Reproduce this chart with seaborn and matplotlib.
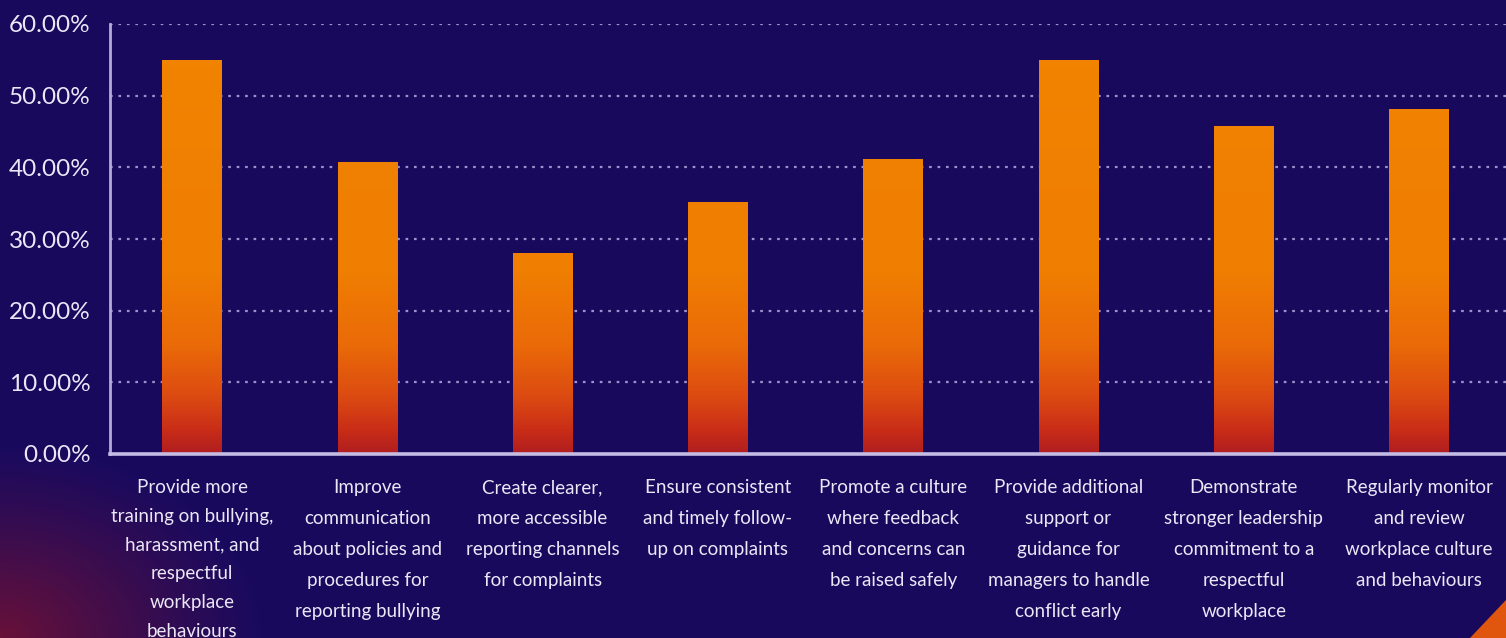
import numpy as np
import pandas as pd
import matplotlib
matplotlib.use("Agg")
import matplotlib.pyplot as plt
from matplotlib.colors import LinearSegmentedColormap, to_rgb
from matplotlib.patches import Polygon
from matplotlib.ticker import FuncFormatter
import seaborn as sns

# Survey answers: share of respondents choosing each improvement (%)
categories = [
    "Provide more\ntraining on bullying,\nharassment, and\nrespectful\nworkplace\nbehaviours",
    "Improve\ncommunication\nabout policies and\nprocedures for\nreporting bullying",
    "Create clearer,\nmore accessible\nreporting channels\nfor complaints",
    "Ensure consistent\nand timely follow-\nup on complaints",
    "Promote a culture\nwhere feedback\nand concerns can\nbe raised safely",
    "Provide additional\nsupport or\nguidance for\nmanagers to handle\nconflict early",
    "Demonstrate\nstronger leadership\ncommitment to a\nrespectful\nworkplace",
    "Regularly monitor\nand review\nworkplace culture\nand behaviours",
]
values = [55.0, 40.8, 28.1, 35.2, 41.2, 55.0, 45.7, 48.2]
y_ticks = [0, 10, 20, 30, 40, 50, 60]

df = pd.DataFrame({"option": categories, "share": values})

sns.set_theme(style="white")
plt.rcParams["font.family"] = ["Lato", "DejaVu Sans"]

W, H = 1506, 638
fig = plt.figure(figsize=(W / 100, H / 100), dpi=100)
bg_color = np.array(to_rgb("#1a0a5e"))
fig.patch.set_facecolor(bg_color)

# Background: deep indigo with a warm glow in the lower-left corner
bg_ax = fig.add_axes([0, 0, 1, 1], zorder=0)
yy, xx = np.mgrid[0:H, 0:W]
d = np.sqrt((xx / 260.0) ** 2 + ((H - yy) / 190.0) ** 2)
glow = np.clip(1 - d, 0, 1) ** 1.1 * 0.7
warm = np.array(to_rgb("#8a1428"))
img = bg_color[None, None, :] * (1 - glow[..., None]) + warm[None, None, :] * glow[..., None]
bg_ax.imshow(img, extent=(0, 1, 0, 1), aspect="auto", origin="upper")
bg_ax.set_xlim(0, 1)
bg_ax.set_ylim(0, 1)
bg_ax.axis("off")

# Orange corner accent
fig.patches.append(Polygon([(1470 / W, 0), (1.0, 38 / H), (1.0, 0)], closed=True,
                           transform=fig.transFigure, facecolor="#e0560f",
                           edgecolor="none", zorder=1))

left, right = 110 / W, 1.0
bottom, top = 184 / H, (H - 24) / H
ax = fig.add_axes([left, bottom, right - left, top - bottom], zorder=2)
ax.set_facecolor("none")

sns.barplot(data=df, x="option", y="share", ax=ax, width=0.34,
            color="#f28400", saturation=1, edgecolor="none", zorder=3)

# Vertical orange-to-red gradient fill for every bar
grad = LinearSegmentedColormap.from_list("bar_grad", [
    (0.0, "#b01e20"),
    (0.05, "#c82c18"),
    (0.13, "#dc4a12"),
    (0.25, "#ea6a08"),
    (0.42, "#f07e02"),
    (1.0, "#f28400"),
])
ymax = y_ticks[-1]
for patch in list(ax.patches):
    x0, w, h = patch.get_x(), patch.get_width(), patch.get_height()
    ys = np.linspace(h, 0, 300) / ymax
    arr = grad(ys)[:, None, :]
    im = ax.imshow(arr, extent=(x0, x0 + w, 0, h), aspect="auto",
                   origin="upper", zorder=3, interpolation="bilinear")
    im.set_clip_path(patch)
    patch.set_facecolor("none")

ax.set_xlim(-0.468, 7.496)
ax.set_ylim(0, ymax)
ax.set_yticks(y_ticks)
ax.yaxis.set_major_formatter(FuncFormatter(lambda v, _: f"{v:.2f}%"))

ax.grid(axis="y", color="#9c92cc", linestyle=(0, (1.2, 2.6)), linewidth=1.6, zorder=1)
ax.grid(axis="x", visible=False)
ax.set_axisbelow(True)

for s in ("top", "right"):
    ax.spines[s].set_visible(False)
ax.spines["left"].set_color("#b4acd8")
ax.spines["left"].set_linewidth(2)
ax.spines["bottom"].set_color("#c4bce4")
ax.spines["bottom"].set_linewidth(2.6)
ax.spines["bottom"].set_zorder(4)

label_color = "#ebe7f6"
ax.tick_params(axis="y", length=0, pad=14, labelsize=17.5, labelcolor=label_color)
ax.tick_params(axis="x", length=0, pad=18, labelcolor=label_color)
ax.set_xticks(range(len(categories)))
xlabels = ax.set_xticklabels(categories, fontsize=13.5, linespacing=2.0,
                             ha="center", va="top")
# the six-line label sits a little tighter so it fits above the bottom edge
xlabels[0].set_linespacing(1.84)
ax.set_xlabel("")
ax.set_ylabel("")

fig.savefig("out.png", dpi=100, facecolor=fig.get_facecolor())
